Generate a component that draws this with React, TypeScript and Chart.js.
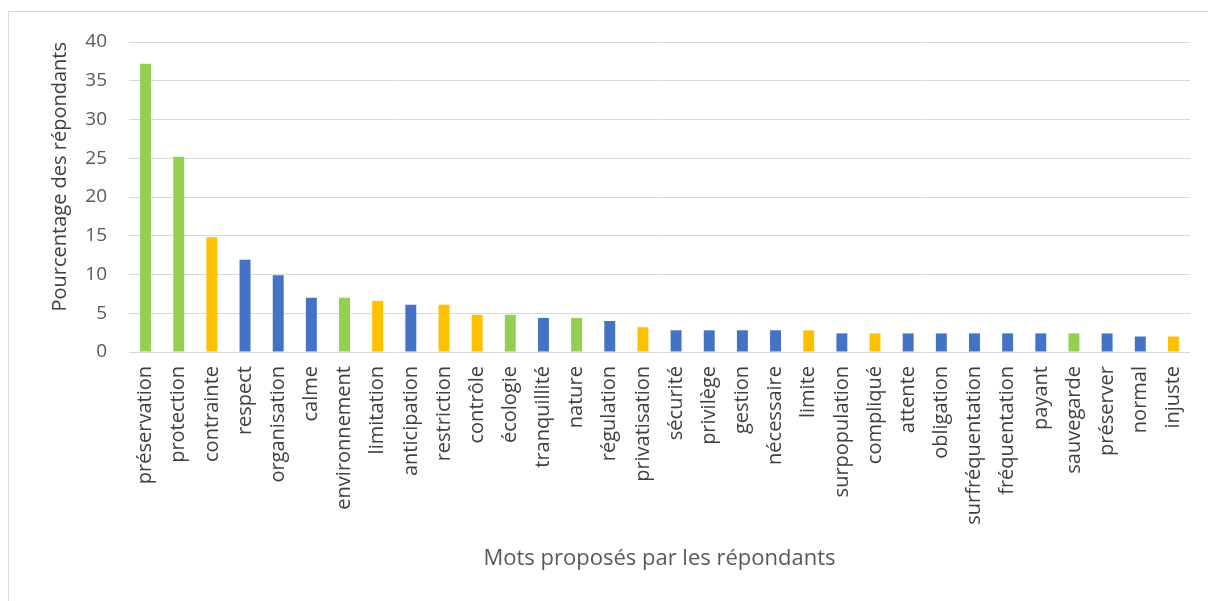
import React, { useEffect, useRef } from "react";
import { Chart, registerables } from "chart.js";

Chart.register(...registerables);

const categories = [
  "préservation", "protection", "contrainte", "respect", "organisation", "calme",
  "environnement", "limitation", "anticipation", "restriction", "contrôle", "écologie",
  "tranquillité", "nature", "régulation", "privatisation", "sécurité", "privilège",
  "gestion", "nécessaire", "limite", "surpopulation", "compliqué", "attente",
  "obligation", "surfréquentation", "fréquentation", "payant", "sauvegarde",
  "préserver", "normal", "injuste",
];

const values = [
  37.2, 25.2, 14.8, 11.9, 9.9, 7.0,
  7.0, 6.6, 6.1, 6.1, 4.8, 4.8,
  4.4, 4.4, 4.0, 3.2, 2.8, 2.8,
  2.8, 2.8, 2.8, 2.4, 2.4, 2.4,
  2.4, 2.4, 2.4, 2.4, 2.4,
  2.4, 2.0, 2.0,
];

// G = green, Y = yellow, B = blue
const groups = [
  "G", "G", "Y", "B", "B", "B",
  "G", "Y", "B", "Y", "Y", "G",
  "B", "G", "B", "Y", "B", "B",
  "B", "B", "Y", "B", "Y", "B",
  "B", "B", "B", "B", "G",
  "B", "B", "Y",
];

const yTicks = [0, 5, 10, 15, 20, 25, 30, 35, 40];

const palette: Record<string, string> = { G: "#92D050", Y: "#FFC000", B: "#4472C4" };

export default function App() {
  const ref = useRef<HTMLCanvasElement>(null);
  useEffect(() => {
    if (!ref.current) return;
    const font = "'Open Sans', sans-serif";
    const chart = new Chart(ref.current, {
      type: "bar",
      data: {
        labels: categories,
        datasets: [
          {
            data: values,
            backgroundColor: groups.map((g) => palette[g]),
            barPercentage: 0.33,
            categoryPercentage: 1,
          },
        ],
      },
      options: {
        animation: false,
        responsive: false,
        maintainAspectRatio: false,
        layout: { padding: { left: 48, right: 18, top: 42, bottom: 29 } },
        plugins: { legend: { display: false }, tooltip: { enabled: false } },
        scales: {
          x: {
            grid: { display: false },
            border: { display: false },
            ticks: {
              color: "#404040",
              font: { family: font, size: 20 },
              maxRotation: 90,
              minRotation: 90,
              autoSkip: false,
              padding: 6,
            },
            title: {
              display: true,
              text: "Mots proposés par les répondants",
              color: "#595959",
              font: { family: font, size: 22 },
              padding: 0,
            },
            afterFit: (s: any) => { s.height = 220; },
          },
          y: {
            min: 0,
            max: 40,
            afterBuildTicks: (s: any) => { s.ticks = yTicks.map((v) => ({ value: v })); },
            grid: { color: "#D9D9D9", lineWidth: 1, drawTicks: false },
            border: { display: false },
            ticks: {
              color: "#595959",
              font: { family: font, size: 19 },
              padding: 22,
            },
            title: {
              display: true,
              text: "Pourcentage des répondants",
              color: "#404040",
              font: { family: font, size: 20 },
              padding: 0,
              align: "end",
            },
            afterFit: (s: any) => { s.width = 81; },
          },
        },
      },
    });
    return () => chart.destroy();
  }, []);
  return (
    <div style={{ position: "absolute", left: 0, top: 0, width: 1208, height: 601, background: "#fff", overflow: "hidden" }}>
      <div style={{ position: "absolute", left: 8, top: 11, width: 1300, height: 700, borderLeft: "1px solid #D9D9D9", borderTop: "1px solid #D9D9D9" }} />
      <canvas ref={ref} width={1208} height={601} style={{ position: "absolute", left: 0, top: 0 }} />
    </div>
  );
}
